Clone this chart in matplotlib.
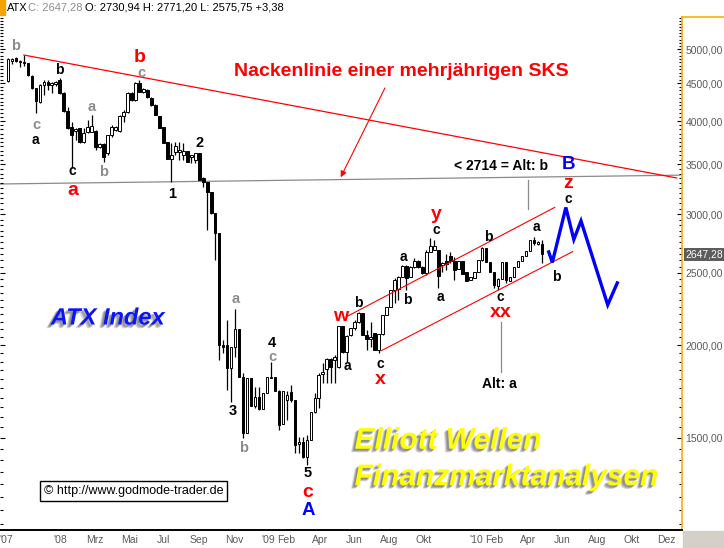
import numpy as np
import pandas as pd
import matplotlib
matplotlib.use('Agg')
import matplotlib.pyplot as plt
import matplotlib.dates as mdates
import matplotlib.ticker as mticker
import matplotlib.patheffects as pe
from matplotlib.patches import Rectangle
from matplotlib.lines import Line2D

plt.rcParams['font.family'] = ['Liberation Sans', 'DejaVu Sans']

# ATX weekly candles, first week starting 2007-10-01
first_week = '2007-10-01'
opens = [4530, 4819, 4864, 4804, 4790, 4790, 4601, 4433, 4245, 4475, 4516, 4475, 4489, 4544, 4365, 4128,
         3929, 3881, 3917, 3751, 3869, 3869, 3881, 3693, 3728, 3625, 3833, 3893, 3881, 4065, 4116, 4365,
         4271, 4502, 4379, 4406, 4298, 4206, 4065, 3929, 3751, 3558, 3636, 3636, 3602, 3647, 3580, 3547,
         3625, 3355, 3314, 3213, 3010, 2830, 2001, 2001, 1863, 1988, 2103, 1812, 1524, 1806, 1657, 1703,
         1641, 1724, 1806, 1812, 1735, 1566, 1687, 1730, 1687, 1473, 1482, 1414, 1491, 1625, 1698, 1829,
         1857, 1916, 1910, 1869, 2122, 1958, 2064, 2109, 2149, 2209, 2064, 2039, 2077, 1970, 2071, 2196,
         2251, 2372, 2380, 2470, 2554, 2470, 2546, 2595, 2546, 2500, 2669, 2685, 2685, 2562, 2595, 2636,
         2595, 2531, 2595, 2508, 2447, 2462, 2508, 2603, 2702, 2587, 2508, 2402, 2455, 2587, 2439, 2470,
         2546, 2595, 2636, 2677, 2769, 2735, 2730.94]
highs = [4864, 4864, 4879, 4834, 4909, 4790, 4615, 4433, 4489, 4544, 4544, 4516, 4530, 4572, 4379, 4180,
         3990, 3917, 3917, 3917, 4015, 4078, 3893, 3740, 3740, 3833, 3953, 3941, 4078, 4141, 4379, 4379,
         4516, 4544, 4433, 4420, 4311, 4219, 4065, 3929, 3751, 3740, 3751, 3751, 3740, 3647, 3602, 3625,
         3625, 3365, 3314, 3213, 3010, 2830, 2032, 2162, 1988, 2237, 2103, 1834, 1806, 1806, 1757, 1757,
         1724, 1812, 1898, 1812, 1740, 1735, 1735, 1767, 1687, 1505, 1505, 1514, 1625, 1724, 1834, 1892,
         1922, 1922, 1940, 2122, 2122, 2064, 2109, 2162, 2216, 2209, 2096, 2149, 2077, 2071, 2196, 2251,
         2372, 2462, 2478, 2562, 2562, 2554, 2619, 2603, 2554, 2685, 2786, 2769, 2685, 2587, 2651, 2669,
         2627, 2595, 2595, 2508, 2470, 2508, 2603, 2710, 2702, 2587, 2508, 2462, 2587, 2587, 2470, 2546,
         2595, 2636, 2677, 2769, 2795, 2761, 2771.20]
lows = [4516, 4775, 4804, 4731, 4746, 4601, 4420, 4103, 4232, 4338, 4406, 4365, 4461, 4352, 4116, 3905,
        3460, 3774, 3740, 3740, 3857, 3869, 3659, 3682, 3525, 3602, 3809, 3881, 3869, 3990, 4103, 4258,
        4258, 4379, 4365, 4298, 4193, 4078, 3917, 3740, 3558, 3314, 3602, 3547, 3547, 3525, 3514, 3514,
        3334, 3263, 2856, 3001, 2603, 1910, 1952, 1740, 1677, 1928, 1812, 1500, 1524, 1657, 1646, 1636,
        1641, 1724, 1806, 1735, 1538, 1566, 1586, 1677, 1432, 1432, 1410, 1380, 1491, 1620, 1646, 1778,
        1778, 1778, 1778, 1863, 1952, 1898, 2058, 2096, 2142, 2064, 1970, 1988, 1970, 1952, 2064, 2196,
        2251, 2279, 2300, 2470, 2372, 2470, 2538, 2538, 2492, 2485, 2669, 2685, 2388, 2508, 2523, 2579,
        2447, 2531, 2492, 2439, 2447, 2462, 2508, 2595, 2587, 2508, 2388, 2372, 2455, 2424, 2439, 2470,
        2546, 2595, 2636, 2677, 2727, 2727, 2575.75]
closes = [4849, 4849, 4819, 4819, 4804, 4615, 4433, 4258, 4475, 4516, 4475, 4502, 4516, 4365, 4128, 3917,
          3833, 3905, 3751, 3857, 3929, 3941, 3693, 3728, 3580, 3833, 3929, 3929, 4065, 4116, 4365, 4271,
          4502, 4379, 4420, 4311, 4206, 4078, 3917, 3740, 3558, 3602, 3705, 3659, 3647, 3525, 3602, 3625,
          3334, 3314, 3213, 3010, 2830, 2001, 1988, 1863, 1988, 2103, 1812, 1524, 1806, 1657, 1703, 1641,
          1724, 1812, 1812, 1735, 1561, 1735, 1714, 1687, 1468, 1482, 1414, 1491, 1625, 1698, 1823, 1840,
          1916, 1869, 1928, 2122, 1958, 2058, 2109, 2149, 2209, 2064, 2039, 2052, 1970, 2071, 2196, 2251,
          2372, 2447, 2470, 2554, 2462, 2546, 2595, 2546, 2500, 2669, 2719, 2719, 2477, 2579, 2571, 2595,
          2523, 2595, 2492, 2439, 2470, 2508, 2603, 2702, 2587, 2508, 2409, 2455, 2587, 2447, 2470, 2546,
          2595, 2636, 2677, 2769, 2744, 2752, 2647.28]

# y axis labels
price_ticks = [1500, 2000, 2500, 3000, 3500, 4000, 4500, 5000]

# x axis labels
tick_dates = ['2007-09-27', '2008-01-01', '2008-03-01', '2008-05-01', '2008-07-01', '2008-09-01',
              '2008-11-01', '2009-01-01', '2009-02-01', '2009-04-01', '2009-06-01', '2009-08-01',
              '2009-10-01', '2010-01-01', '2010-02-01', '2010-04-01', '2010-06-01', '2010-08-01',
              '2010-10-01', '2010-12-01']
tick_labels = ["'07", "'08", 'Mrz', 'Mai', 'Jul', 'Sep', 'Nov', "'09", 'Feb', 'Apr', 'Jun', 'Aug',
               'Okt', "'10", 'Feb', 'Apr', 'Jun', 'Aug', 'Okt', 'Dez']

# drawn lines: (week offset from first candle, price)
neck_weeks, neck_prices = [4.0, 167.8], [4909, 3355]
base_weeks, base_prices = [-2.0, 168.6], [3293, 3384]
chan_up_weeks, chan_up_prices = [85.0, 137.2], [2184, 3063]
chan_lo_weeks, chan_lo_prices = [93.75, 141.7], [1966, 2671]
alt_a_week, alt_a_prices = 123.6, [1841, 2151]
alt_b_week, alt_b_prices = 130.5, [3048, 3334]
arrow_weeks, arrow_prices = [94.6, 83.5], [4433, 3362]
proj_weeks = [135.7, 136.6, 140.0, 142.0, 143.8, 150.5, 152.9]
proj_prices = [2668, 2583, 3062, 2773, 2937, 2265, 2424]

# wave counts: (week offset, price, text)
red_labels = [(16.2, 3225, 'a'), (33.0, 4870, 'b'), (75.3, 1266, 'c'), (83.4, 2184, 'w'),
              (93.5, 1800, 'x'), (107.5, 2992, 'y'), (123.6, 2210, 'xx'), (140.6, 3298, 'z')]
blue_labels = [(75.3, 1197, 'A'), (140.6, 3498, 'B')]
black_labels = [(13.0, 4687, 'b'), (7.0, 3774, 'a'), (16.2, 3432, 'c'), (85.2, 1874, 'a'),
                (88.0, 2277, 'b'), (93.5, 1886, 'c'), (99.3, 2630, 'a'), (100.3, 2300, 'b'),
                (107.5, 2856, 'c'), (108.4, 2319, 'a'), (120.5, 2797, 'b'), (123.6, 2318, 'c'),
                (132.5, 2878, 'a'), (137.5, 2466, 'b'), (140.6, 3141, 'c')]
gray_labels = [(1.8, 5048, 'b'), (7.2, 3954, 'c'), (21.0, 4183, 'a'), (24.0, 3421, 'b'),
               (33.4, 4640, 'c'), (57.2, 2307, 'a'), (59.2, 1453, 'b'), (66.4, 1925, 'c')]
count_labels = [(41.2, 3193, '1'), (48.2, 3736, '2'), (56.3, 1631, '3'), (66.2, 2015, '4'),
                (75.3, 1346, '5')]

o = np.array(opens); h = np.array(highs); l = np.array(lows); c = np.array(closes)
dates = pd.date_range(first_week, periods=len(c), freq='7D')
x = mdates.date2num(dates)


def wk(w):
    return x[0] + 7 * np.asarray(w)


fig = plt.figure(figsize=(7.24, 5.48), dpi=100)
ax = fig.add_axes([0, 18 / 548, 682 / 724, 513.2 / 548])
ax.set_yscale('log')
ax.set_ylim(1128, 5526)
ax.set_xlim(mdates.date2num(pd.Timestamp('2007-09-17')), mdates.date2num(pd.Timestamp('2010-12-28')))

# candles
up = c >= o
ax.vlines(x, l, h, color='black', lw=0.9, zorder=2)
ax.bar(x, np.abs(c - o), bottom=np.minimum(o, c), width=4.6,
       color=np.where(up, 'white', 'black'), edgecolor='black', lw=0.7, zorder=3)

# lines
ax.plot(wk(base_weeks), base_prices, color='#8a8a8a', lw=0.9, zorder=1)
ax.plot(wk(neck_weeks), neck_prices, color='red', lw=0.9, zorder=4)
ax.plot(wk(chan_up_weeks), chan_up_prices, color='red', lw=0.8, zorder=4)
ax.plot(wk(chan_lo_weeks), chan_lo_prices, color='red', lw=0.8, zorder=4)
ax.plot(wk([alt_a_week] * 2), alt_a_prices, color='#8a8a8a', lw=0.9, zorder=1)
ax.plot(wk([alt_b_week] * 2), alt_b_prices, color='#8a8a8a', lw=0.9, zorder=1)
ax.annotate('', xy=(wk(arrow_weeks[1]), arrow_prices[1]), xytext=(wk(arrow_weeks[0]), arrow_prices[0]),
            arrowprops=dict(arrowstyle='-|>', color='red', lw=0.8, mutation_scale=9,
                            shrinkA=0, shrinkB=0), zorder=4)
ax.plot(wk(proj_weeks), proj_prices, color='#0000ff', lw=2.4, zorder=5, solid_joinstyle='miter')

# wave labels
for w, p, t in red_labels:
    ax.text(wk(w), p, t, color='red', fontsize=14, fontweight='bold', ha='center', va='center', zorder=6)
for w, p, t in blue_labels:
    ax.text(wk(w), p, t, color='#0000ff', fontsize=13.5, fontweight='bold', ha='center', va='center', zorder=6)
for w, p, t in black_labels:
    ax.text(wk(w), p, t, color='black', fontsize=10, fontweight='bold', ha='center', va='center', zorder=6)
for w, p, t in gray_labels:
    ax.text(wk(w), p, t, color='#8c8c8c', fontsize=10.5, fontweight='bold', ha='center', va='center', zorder=6)
for w, p, t in count_labels:
    ax.text(wk(w), p, t, color='black', fontsize=10.5, fontweight='bold', ha='center', va='center', zorder=6)

ax.text(wk(123.7), 3482, '< 2714 = Alt: b', color='black', fontsize=10, fontweight='bold',
        ha='center', va='center', zorder=6)
ax.text(wk(123.4), 1773, 'Alt: a', color='black', fontsize=10, fontweight='bold',
        ha='center', va='center', zorder=6)
ax.text(0.588, 0.893, 'Nackenlinie einer mehrjährigen SKS', transform=ax.transAxes, color='red',
        fontsize=14, fontweight='bold', ha='center', va='center', zorder=6)

shadow = [pe.SimplePatchShadow(offset=(-3.0, -2.6), shadow_rgbFace='#505050', alpha=0.22),
          pe.SimplePatchShadow(offset=(-2.2, -2.0), shadow_rgbFace='#505050', alpha=0.3),
          pe.SimplePatchShadow(offset=(-1.4, -1.3), shadow_rgbFace='#505050', alpha=0.35),
          pe.Normal()]
ax.text(0.158, 0.413, 'ATX Index', transform=ax.transAxes, color='#0a14ff', fontsize=17,
        fontweight='bold', fontstyle='italic', ha='center', va='center', path_effects=shadow, zorder=6)
ax.text(0.52, 0.174, 'Elliott Wellen', transform=ax.transAxes, color='#ffff00', fontsize=21.5,
        fontweight='bold', fontstyle='italic', ha='left', va='center', path_effects=shadow, zorder=6)
ax.text(0.52, 0.103, 'Finanzmarktanalysen', transform=ax.transAxes, color='#ffff00', fontsize=21.5,
        fontweight='bold', fontstyle='italic', ha='left', va='center', path_effects=shadow, zorder=6)
ax.text(0.064, 0.076, '\u00a9 http://www.godmode-trader.de', transform=ax.transAxes, color='black',
        fontsize=9, ha='left', va='center', zorder=6,
        bbox=dict(boxstyle='square,pad=0.32', fc='white', ec='black', lw=1))

# axes styling
orange = '#f2b300'
for s in ['top', 'left']:
    ax.spines[s].set_visible(False)
ax.spines['right'].set_color(orange)
ax.spines['right'].set_linewidth(1.2)
ax.spines['bottom'].set_color('black')
ax.spines['bottom'].set_linewidth(1.4)

ax.yaxis.set_major_locator(mticker.FixedLocator(price_ticks))
ax.yaxis.set_minor_locator(mticker.MultipleLocator(50))
ax.yaxis.set_major_formatter(mticker.FuncFormatter(lambda v, _: f'{v:.2f}'.replace('.', ',')))
ax.yaxis.set_minor_formatter(mticker.NullFormatter())
ax.tick_params(axis='y', which='both', direction='in', left=True, right=True,
               labelleft=False, labelright=True, labelsize=7.5, labelcolor='#5a5a5a', pad=2.5)
ax.tick_params(axis='y', which='major', length=3.5, width=0.8)
ax.tick_params(axis='y', which='minor', length=2.2, width=0.8)

ax.xaxis.set_major_locator(mticker.FixedLocator(mdates.date2num(pd.to_datetime(tick_dates))))
ax.xaxis.set_major_formatter(mticker.FixedFormatter(tick_labels))
ax.xaxis.set_minor_locator(mticker.NullLocator())
ax.tick_params(axis='x', length=0, pad=3.5, labelsize=7.5, labelcolor='#5a5a5a')

# last price tag
ax.annotate(f'{c[-1]:.2f}'.replace('.', ','), xy=(1, c[-1]), xycoords=('axes fraction', 'data'),
            xytext=(2.5, 0), textcoords='offset points', ha='left', va='center', fontsize=7.5,
            color='white', annotation_clip=False,
            bbox=dict(boxstyle='square,pad=0.15', fc='#5c5c5c', ec='none'))

# header
hy = 1 - 8 / 548
fig.text(7 / 724, hy, 'ATX', color='black', fontsize=8, va='center')
fig.text(27.5 / 724, hy, f'C: {c[-1]:.2f}'.replace('.', ','), color='#8c8c8c', fontsize=8, va='center')
fig.text(85 / 724, hy, (f'O: {o[-1]:.2f} H: {h[-1]:.2f} L: {l[-1]:.2f}'.replace('.', ',')) + ' +3,38',
         color='black', fontsize=8, va='center')
fig.patches.append(Rectangle((0, 1 - 15 / 548), 5 / 724, 15 / 548, transform=fig.transFigure,
                             color='#f5a300', zorder=5))
fig.add_artist(Line2D([682 / 724, 1], [1 - 16.8 / 548] * 2, color=orange, lw=1.2,
                      transform=fig.transFigure))
fig.patches.append(Rectangle((683 / 724, 0), 41 / 724, 17 / 548, transform=fig.transFigure,
                             color='#d4d0c8', zorder=5))

fig.savefig('out.png', dpi=100)
